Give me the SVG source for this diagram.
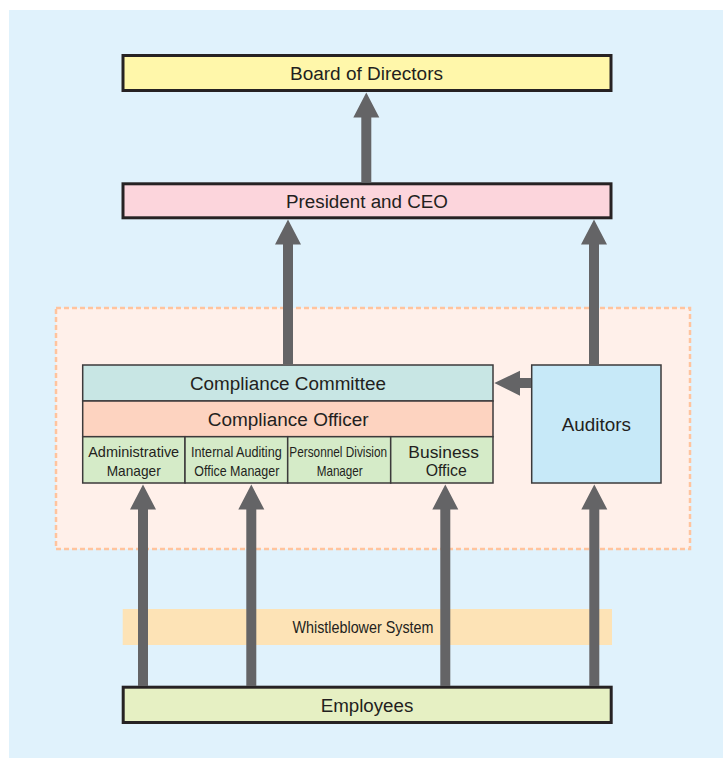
<svg xmlns="http://www.w3.org/2000/svg" width="723" height="758" viewBox="0 0 723 758">
<style>
text{font-family:"Liberation Sans",Arial,sans-serif;fill:#231f20;text-anchor:middle}
.big{font-size:18px}
.mid{font-size:16.5px}
.sm{font-size:15px}
.thick{stroke:#262223;stroke-width:3}
.thin{stroke:#3c3a3b;stroke-width:1.5}
.arr{fill:#646466}
</style>
<rect x="9" y="10" width="714" height="748" fill="#e0f2fc"/>
<g id="compliance-area">
<rect x="56" y="308" width="634" height="241" fill="#fff0ea" stroke="#ffc49e" stroke-width="2.5" stroke-dasharray="5,3"/>
</g>
<g id="whistleblower">
<rect x="122.7" y="609" width="489.3" height="36" fill="#fde3b6"/>
<text x="363" y="632.7" style="font-size:16.5px" textLength="141" lengthAdjust="spacingAndGlyphs">Whistleblower System</text>
</g>
<g id="board">
<rect x="123" y="55.5" width="488" height="35" fill="#fff7aa" class="thick"/>
<text x="366.5" y="80" class="big" textLength="153" lengthAdjust="spacingAndGlyphs">Board of Directors</text>
</g>
<g id="president">
<rect x="123" y="183.8" width="488" height="34" fill="#fcd5dc" class="thick"/>
<text x="367" y="208.3" class="big" textLength="162" lengthAdjust="spacingAndGlyphs">President and CEO</text>
</g>
<g id="employees">
<rect x="123.2" y="687.2" width="488" height="35.3" fill="#e6f0c3" class="thick"/>
<text x="367" y="711.7" class="big" textLength="92.7" lengthAdjust="spacingAndGlyphs">Employees</text>
</g>
<g id="compliance-committee">
<rect x="82.7" y="365" width="410.3" height="36" fill="#c8e6e4" class="thin"/>
<text x="288" y="390" class="big" textLength="196" lengthAdjust="spacingAndGlyphs">Compliance Committee</text>
</g>
<g id="compliance-officer">
<rect x="82.7" y="401" width="410.3" height="35.7" fill="#fdd3c0" class="thin"/>
<text x="288.2" y="425.7" class="big" textLength="161" lengthAdjust="spacingAndGlyphs">Compliance Officer</text>
</g>
<g id="administrative-manager">
<rect x="82.7" y="436.7" width="102.3" height="46.3" fill="#d5ebc8" class="thin"/>
<text x="133.7" y="457.3" class="sm" textLength="91" lengthAdjust="spacingAndGlyphs">Administrative</text>
<text x="133.7" y="476.3" class="sm" textLength="54" lengthAdjust="spacingAndGlyphs">Manager</text>
</g>
<g id="internal-auditing">
<rect x="185" y="436.7" width="102.7" height="46.3" fill="#d5ebc8" class="thin"/>
<text x="236.4" y="457.3" class="sm" textLength="90.7" lengthAdjust="spacingAndGlyphs">Internal Auditing</text>
<text x="236.8" y="476.3" class="sm" textLength="85" lengthAdjust="spacingAndGlyphs">Office Manager</text>
</g>
<g id="personnel-division">
<rect x="287.7" y="436.7" width="103" height="46.3" fill="#d5ebc8" class="thin"/>
<text x="338.2" y="457.3" class="sm" textLength="97.7" lengthAdjust="spacingAndGlyphs">Personnel Division</text>
<text x="339.7" y="476.3" class="sm" textLength="46" lengthAdjust="spacingAndGlyphs">Manager</text>
</g>
<g id="business-office">
<rect x="390.7" y="436.7" width="102.3" height="46.3" fill="#d5ebc8" class="thin"/>
<text x="443.7" y="457.5" class="mid" textLength="70.7" lengthAdjust="spacingAndGlyphs">Business</text>
<text x="446.2" y="475.5" class="mid" textLength="41" lengthAdjust="spacingAndGlyphs">Office</text>
</g>
<g id="auditors">
<rect x="531.7" y="365" width="129.3" height="118" fill="#c7e9f8" class="thin"/>
<text x="596.3" y="430.7" class="big" textLength="69.3" lengthAdjust="spacingAndGlyphs">Auditors</text>
</g>
<g id="connectors" class="arr">
<polygon points="361.3,182.3 361.3,117.5 353.3,117.5 366.3,92.5 379.3,117.5 371.3,117.5 371.3,182.3"/>
<polygon points="283,364.3 283,244.5 275,244.5 288,219.5 301,244.5 293,244.5 293,364.3"/>
<polygon points="589,364.3 589,244.5 581,244.5 594,219.5 607,244.5 599,244.5 599,364.3"/>
<polygon points="531,378 520,378 520,370.7 494.3,383 520,395.7 520,388 531,388"/>
<polygon points="138,686 138,509.5 130,509.5 143,484.5 156,509.5 148,509.5 148,686"/>
<polygon points="246.3,686 246.3,509.5 238.3,509.5 251.3,484.5 264.3,509.5 256.3,509.5 256.3,686"/>
<polygon points="440.3,686 440.3,509.5 432.3,509.5 445.3,484.5 458.3,509.5 450.3,509.5 450.3,686"/>
<polygon points="589.3,686 589.3,509.5 581.3,509.5 594.3,484.5 607.3,509.5 599.3,509.5 599.3,686"/>
</g>
</svg>
